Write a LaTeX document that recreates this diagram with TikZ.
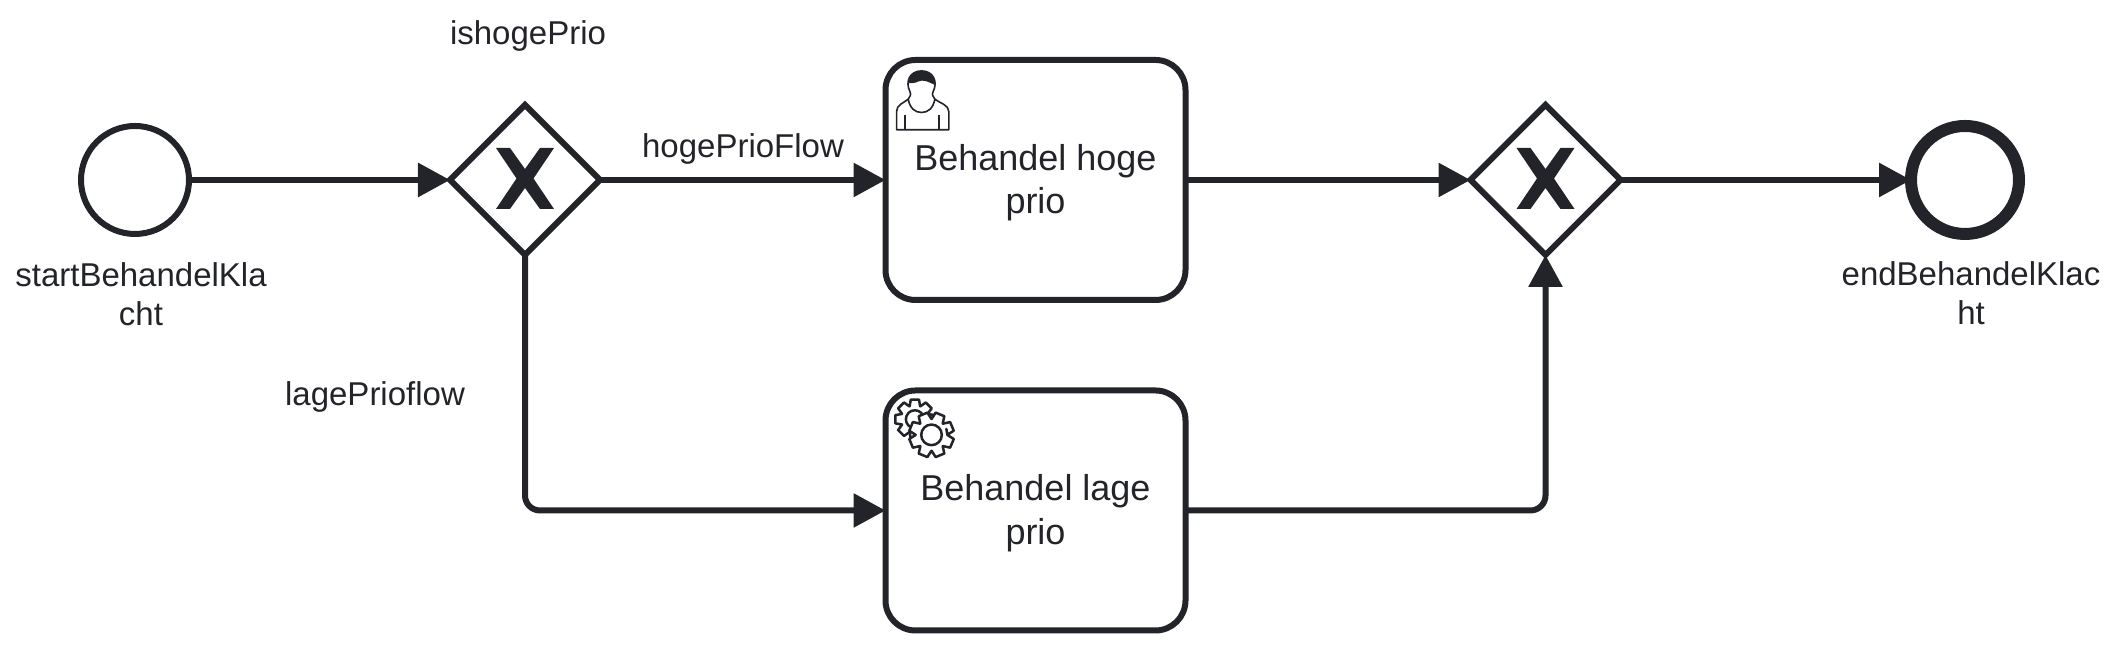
\documentclass[tikz,border=0pt]{standalone}
\usepackage{fontspec}
\setmainfont{Liberation Sans}
\usetikzlibrary{arrows.meta}
\usetikzlibrary{shapes.geometric}
\definecolor{bpmnink}{HTML}{22242A}
\tikzset{
    flowline/.style={draw=bpmnink,line width=.06cm,-{Triangle[length=.32cm,width=.33cm]}},
    startevent/.style={circle,draw=bpmnink,line width=.06cm,minimum size=1.08cm,inner sep=0pt,outer sep=0pt},
    endevent/.style={circle,draw=bpmnink,line width=.12cm,minimum size=1.08cm,inner sep=0pt,outer sep=0pt},
    gateway/.style={diamond,aspect=1,draw=bpmnink,line width=.06cm,minimum size=1.5cm,inner sep=0pt,outer sep=0pt},
    taskbox/.style={rectangle,rounded corners=.3cm,draw=bpmnink,line width=.06cm,minimum width=3cm,minimum height=2.4cm,
        inner sep=0pt,outer sep=0pt,align=center,text=bpmnink,font=\fontsize{10.24}{12.24}\selectfont},
    bpmnlabel/.style={anchor=base,inner sep=0pt,align=center,text=bpmnink,font=\fontsize{9.39}{11.1}\selectfont},
    iconline/.style={draw=bpmnink,line width=.016cm,line join=round},
    gearline/.style={draw=bpmnink,line width=.025cm,line join=round},
}
\begin{document}
\begin{tikzpicture}
    \useasboundingbox (0,0) rectangle (21.18,6.45);

    \node[startevent] (startev) at (1.35,4.65) {};
    \node[gateway] (gwsplit) at (5.25,4.65) {};
    \node[taskbox] (taskhoge) at (10.355,4.65) {\rule{0pt}{.315cm}Behandel hoge\\prio};
    \node[taskbox] (tasklage) at (10.355,1.345) {\rule{0pt}{.315cm}Behandel lage\\prio};
    \node[gateway] (gwjoin) at (15.455,4.65) {};
    \node[endevent] (endev) at (19.65,4.65) {};

    \node[bpmnlabel] (startlabel) at (1.41,3.195) {startBehandelKla\\cht};
    \node[bpmnlabel] (endlabel) at (19.71,3.205) {endBehandelKlac\\ht};
    \node[bpmnlabel] (splitlabel) at (5.28,6.0) {ishogePrio};
    \node[bpmnlabel] (hogelabel) at (7.43,4.875) {hogePrioFlow};
    \node[bpmnlabel] (lagelabel) at (3.75,2.39) {lagePrioflow};

    \draw[flowline] (startev) -- (gwsplit);
    \draw[flowline] (gwsplit) -- (taskhoge);
    \draw[flowline] (taskhoge) -- (gwjoin);
    \draw[flowline] (gwjoin) -- (endev);
    \draw[flowline,rounded corners=.15cm] (gwsplit.south) |- (tasklage.west);
    \draw[flowline,rounded corners=.15cm] (tasklage.east) -| (gwjoin.south);

    \foreach \gw in {gwsplit,gwjoin}{
        \fill[bpmnink,shift={(\gw.center)},yshift=.015cm]
            (-.29,.305) -- (-.15,.305) -- (0,.095) -- (.15,.305) -- (.29,.305) -- (.085,0)
            -- (.29,-.305) -- (.15,-.305) -- (0,-.095) -- (-.15,-.305) -- (-.29,-.305) -- (-.085,0) -- cycle;
    }

    \begin{scope}[shift={(8.6,6.05)},x=.003333cm,y=-.003333cm]
        \draw[iconline] (145,178) .. controls (150,170) and (155,165) .. (150,155)
            .. controls (135,125) and (150,93) .. (185,93)
            .. controls (220,93) and (235,125) .. (220,155)
            .. controls (215,165) and (220,170) .. (225,178);
        \fill[bpmnink] (147,130) .. controls (147,105) and (165,93) .. (185,93)
            .. controls (205,93) and (225,105) .. (224,135)
            .. controls (205,125) and (190,118) .. (175,125)
            .. controls (165,130) and (155,130) .. (147,130) -- cycle;
        \draw[iconline] (110,270) -- (110,215) .. controls (110,195) and (130,190) .. (145,178)
            .. controls (150,205) and (165,218) .. (185,218)
            .. controls (205,218) and (220,205) .. (225,178)
            .. controls (240,190) and (267,195) .. (267,215) -- (267,270) -- cycle;
        \draw[iconline] (135,225) -- (135,270);
        \draw[iconline] (237,225) -- (237,270);
    \end{scope}

    \begin{scope}[shift={(8.6,2.65)},x=.003333cm,y=-.003333cm]
        \begin{scope}[shift={(165,118)}]
            \draw[gearline] (-22:42) \foreach \a in {0,45,...,315}{
                -- (\a-22:42) -- (\a-12:60) -- (\a+12:60) -- (\a+22:42)} -- cycle;
            \draw[gearline] (0,0) circle (27);
        \end{scope}
        \begin{scope}[shift={(215,165)}]
            \draw[gearline,fill=white] (-22:48) \foreach \a in {22.5,67.5,...,337.5}{
                -- (\a-22:48) -- (\a-12:68) -- (\a+12:68) -- (\a+22:48)} -- cycle;
            \draw[gearline] (0,0) circle (31);
        \end{scope}
    \end{scope}
\end{tikzpicture}
\end{document}
